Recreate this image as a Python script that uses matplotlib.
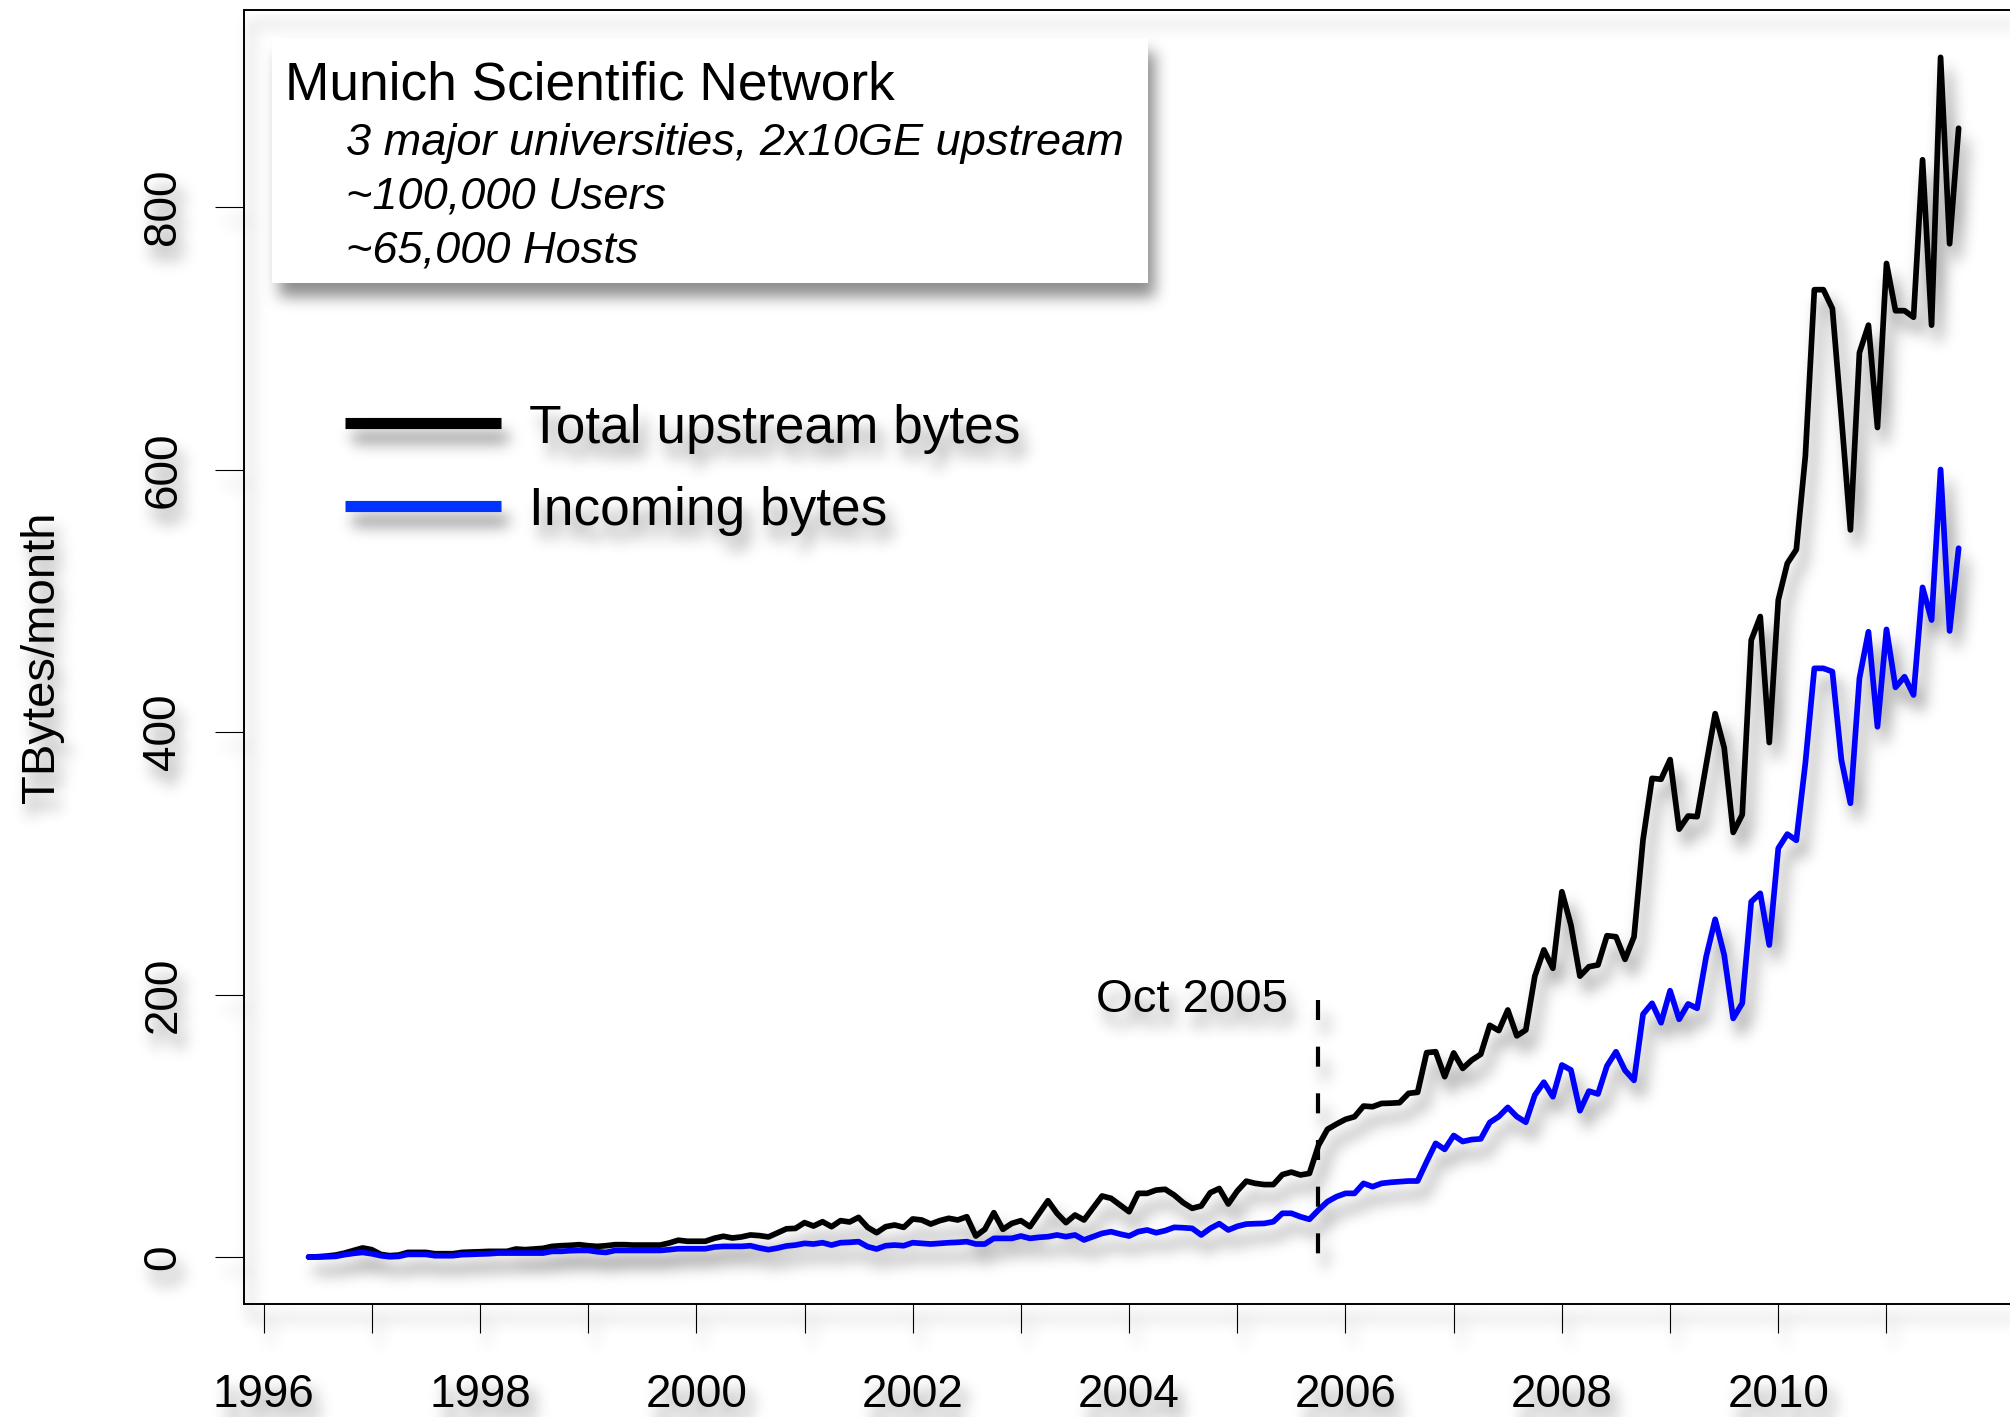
import numpy as np
import pandas as pd
import matplotlib
matplotlib.use('Agg')
import matplotlib.pyplot as plt
from matplotlib.patches import Rectangle
from matplotlib.lines import Line2D

plt.rcParams['font.family'] = ['Liberation Sans', 'DejaVu Sans']

# Monthly traffic, June 1996 - September 2011 (TBytes/month)
months = pd.date_range('1996-06-01', '2011-09-01', freq='MS')

total_tb = [
    0.0, 0.2, 0.7, 1.5, 3.0, 5.0, 6.9,
    5.6, 2.0, 1.0, 1.5, 3.5, 3.5, 3.5, 2.5, 2.5, 2.5, 3.5, 3.8,
    4.0, 4.3, 4.3, 4.3, 6.1, 5.6, 6.1, 6.6, 8.1, 8.6, 8.9, 9.4,
    8.6, 8.1, 8.6, 9.4, 9.4, 9.1, 9.1, 9.1, 9.1, 10.7, 12.8, 12.0,
    12.0, 12.0, 14.3, 15.8, 14.5, 15.3, 16.8, 16.3, 15.3, 18.4, 21.5, 21.8,
    26.2, 23.6, 26.9, 23.1, 27.7, 26.7, 30.2, 22.6, 18.5, 23.1, 24.4, 22.6,
    29.0, 28.2, 25.1, 27.7, 29.5, 28.2, 30.7, 16.0, 21.1, 33.8, 21.1, 25.6,
    27.7, 23.1, 33.0, 42.9, 33.3, 26.2, 32.0, 28.2, 37.3, 46.5, 44.7, 39.6,
    34.5, 48.5, 48.5, 51.0, 51.6, 47.2, 41.4, 37.1, 38.9, 49.0, 52.2, 40.4,
    50.3, 57.8, 56.1, 55.2, 55.2, 62.8, 64.7, 62.5, 63.7, 85.0, 97.3, 101.3,
    104.9, 106.9, 115.0, 114.5, 117.0, 117.2, 117.6, 124.7, 125.5, 155.7, 156.4, 137.4,
    155.5, 143.7, 150.0, 154.5, 176.5, 172.5, 188.2, 168.5, 173.0, 214.0, 234.0, 220.0,
    278.3, 253.0, 214.0, 221.2, 222.5, 244.8, 244.0, 226.8, 244.0, 318.0, 364.7, 364.0,
    379.0, 326.0, 336.0, 335.5, 375.0, 414.0, 388.0, 323.5, 337.0, 470.0, 488.0, 392.0,
    500.6, 528.5, 539.0, 610.0, 737.0, 737.0, 722.6, 640.0, 554.0, 689.0, 710.0, 632.0,
    757.0, 721.0, 721.0, 716.0, 836.0, 710.0, 914.0, 772.0, 860.0,
]

incoming_tb = [
    0.0, 0.0, 0.2, 0.5, 1.8, 2.8, 3.5,
    2.5, 1.0, 0.2, 0.5, 2.0, 2.0, 2.0, 1.0, 1.0, 1.0, 1.8, 2.0,
    2.3, 2.5, 3.0, 3.0, 3.0, 3.0, 3.0, 3.0, 4.3, 4.3, 4.8, 5.0,
    5.0, 4.0, 3.5, 5.0, 5.0, 5.0, 5.0, 5.0, 5.0, 5.6, 6.3, 6.3,
    6.3, 6.3, 7.6, 8.1, 8.1, 8.1, 8.6, 6.9, 5.6, 6.8, 8.4, 9.1,
    10.4, 9.9, 10.9, 9.1, 10.9, 11.2, 11.7, 7.9, 6.1, 8.6, 9.1, 8.6,
    10.9, 10.4, 9.9, 10.4, 10.9, 11.2, 11.7, 9.9, 9.9, 14.2, 14.2, 14.2,
    16.0, 14.2, 15.0, 15.5, 16.8, 15.5, 16.8, 13.0, 15.5, 18.0, 19.3, 17.5,
    16.0, 19.3, 20.6, 18.5, 20.1, 22.6, 22.3, 21.8, 16.8, 21.8, 25.4, 20.6,
    23.4, 25.1, 25.4, 25.6, 26.9, 33.3, 33.3, 30.7, 28.7, 35.8, 42.2, 46.0,
    48.5, 48.5, 56.1, 53.6, 56.1, 56.9, 57.4, 57.9, 57.9, 72.6, 86.6, 82.0,
    92.6, 88.0, 89.5, 90.0, 102.5, 107.0, 114.0, 107.0, 102.7, 123.4, 133.2, 122.1,
    146.3, 142.5, 111.5, 126.4, 124.2, 145.6, 156.4, 142.2, 134.6, 185.0, 193.3, 178.5,
    202.9, 181.1, 192.8, 189.5, 228.8, 257.3, 230.1, 181.8, 193.3, 270.7, 277.1, 237.7,
    311.4, 322.2, 317.5, 376.1, 448.5, 448.5, 446.0, 378.7, 345.7, 440.9, 476.4, 404.0,
    478.2, 434.0, 442.1, 428.2, 510.2, 485.3, 600.0, 477.0, 540.0,
]

year_ticks = list(range(1996, 2012))
year_labels = [str(y) if y % 2 == 0 else '' for y in year_ticks]
tb_ticks = [0, 200, 400, 600, 800]

marker_date = 2005.75  # Oct 2005
info_lines = ['3 major universities, 2x10GE upstream', '~100,000 Users', '~65,000 Hosts']

# decimal years for the monthly x axis
t = months.year + (months.month - 1) / 12.0

W, H = 2010, 1417
fig = plt.figure(figsize=(W / 100, H / 100), dpi=100, facecolor='white')


def fx(x):
    return x / W


def fy(y):
    return 1 - y / H


# axes run past the right edge of the canvas
ax = fig.add_axes([fx(243.6), fy(1304), 1780.3 / W, 1294 / H])
ax.patch.set_visible(False)

ax.plot(t, total_tb, color='black', lw=4.1, solid_joinstyle='round', solid_capstyle='round')
ax.plot(t, incoming_tb, color='#0000ff', lw=4.1, solid_joinstyle='round', solid_capstyle='round')
ax.plot([marker_date, marker_date], [196, -2], color='black', lw=3,
        ls=(0, (4.8, 6.4)), dash_capstyle='butt')
ax.text(marker_date - 0.28, 186.5, 'Oct 2005', fontsize=34, ha='right', va='baseline')

ax.set_xlim(1995.816, 2012.27)
ax.set_ylim(-35.8, 950.1)
ax.set_xticks(year_ticks)
ax.set_xticklabels(year_labels)
ax.set_yticks(tb_ticks)
ax.set_yticklabels([str(v) for v in tb_ticks], rotation=90, va='center')
ax.tick_params(axis='both', direction='out', length=20.9, width=0.8, labelsize=33)
ax.tick_params(axis='x', pad=28.5)
ax.tick_params(axis='y', pad=21)
for s in ax.spines.values():
    s.set_linewidth(1.4)

fig.text(fx(42), 0.5 * (fy(10) + fy(1304)), 'TBytes/month', rotation=90,
         fontsize=34, ha='center', va='center')

# info box
box = Rectangle((fx(272), fy(283)), (1148 - 272) / W, (283 - 38) / H,
                transform=fig.transFigure, facecolor='white', edgecolor='none', zorder=2)
fig.add_artist(box)
fig.text(fx(285), fy(100), 'Munich Scientific Network', fontsize=38.3, va='baseline', zorder=3)
for i, line in enumerate(info_lines):
    fig.text(fx(346), fy(155 + 53.5 * i), line, fontsize=32.5, style='italic',
             va='baseline', zorder=3)

# legend
legend_items = [('Total upstream bytes', 'black', 423.3, 442.7),
                ('Incoming bytes', '#0033ff', 506.3, 525.0)]
for label, color, ly, base in legend_items:
    fig.add_artist(Line2D([fx(345), fx(500.7)], [fy(ly), fy(ly)], transform=fig.transFigure,
                          color=color, lw=8, solid_capstyle='butt'))
    fig.text(fx(529), fy(base), label, fontsize=38.3, va='baseline')

# soft drop shadow under everything: render ink, blur it, put it underneath
box.set_facecolor('black')
fig.canvas.draw()
rgba = np.asarray(fig.canvas.buffer_rgba()).astype(float) / 255.0
box.set_facecolor('white')
ink = 1.0 - rgba[..., :3].min(axis=2)

sigma = 7.5
r = int(3 * sigma)
k = np.exp(-0.5 * (np.arange(-r, r + 1) / sigma) ** 2)
k /= k.sum()
soft = np.apply_along_axis(lambda v: np.convolve(v, k, mode='same'), 0, ink)
soft = np.apply_along_axis(lambda v: np.convolve(v, k, mode='same'), 1, soft)

dx, dy = 7, 14
shadow = np.zeros_like(soft)
shadow[dy:, dx:] = soft[:-dy, :-dx]

img = np.zeros((H, W, 4))
img[..., 3] = 0.45 * shadow
fig.figimage(img, 0, 0, origin='upper', zorder=-5)

fig.savefig('out.png', dpi=100, facecolor='white')
